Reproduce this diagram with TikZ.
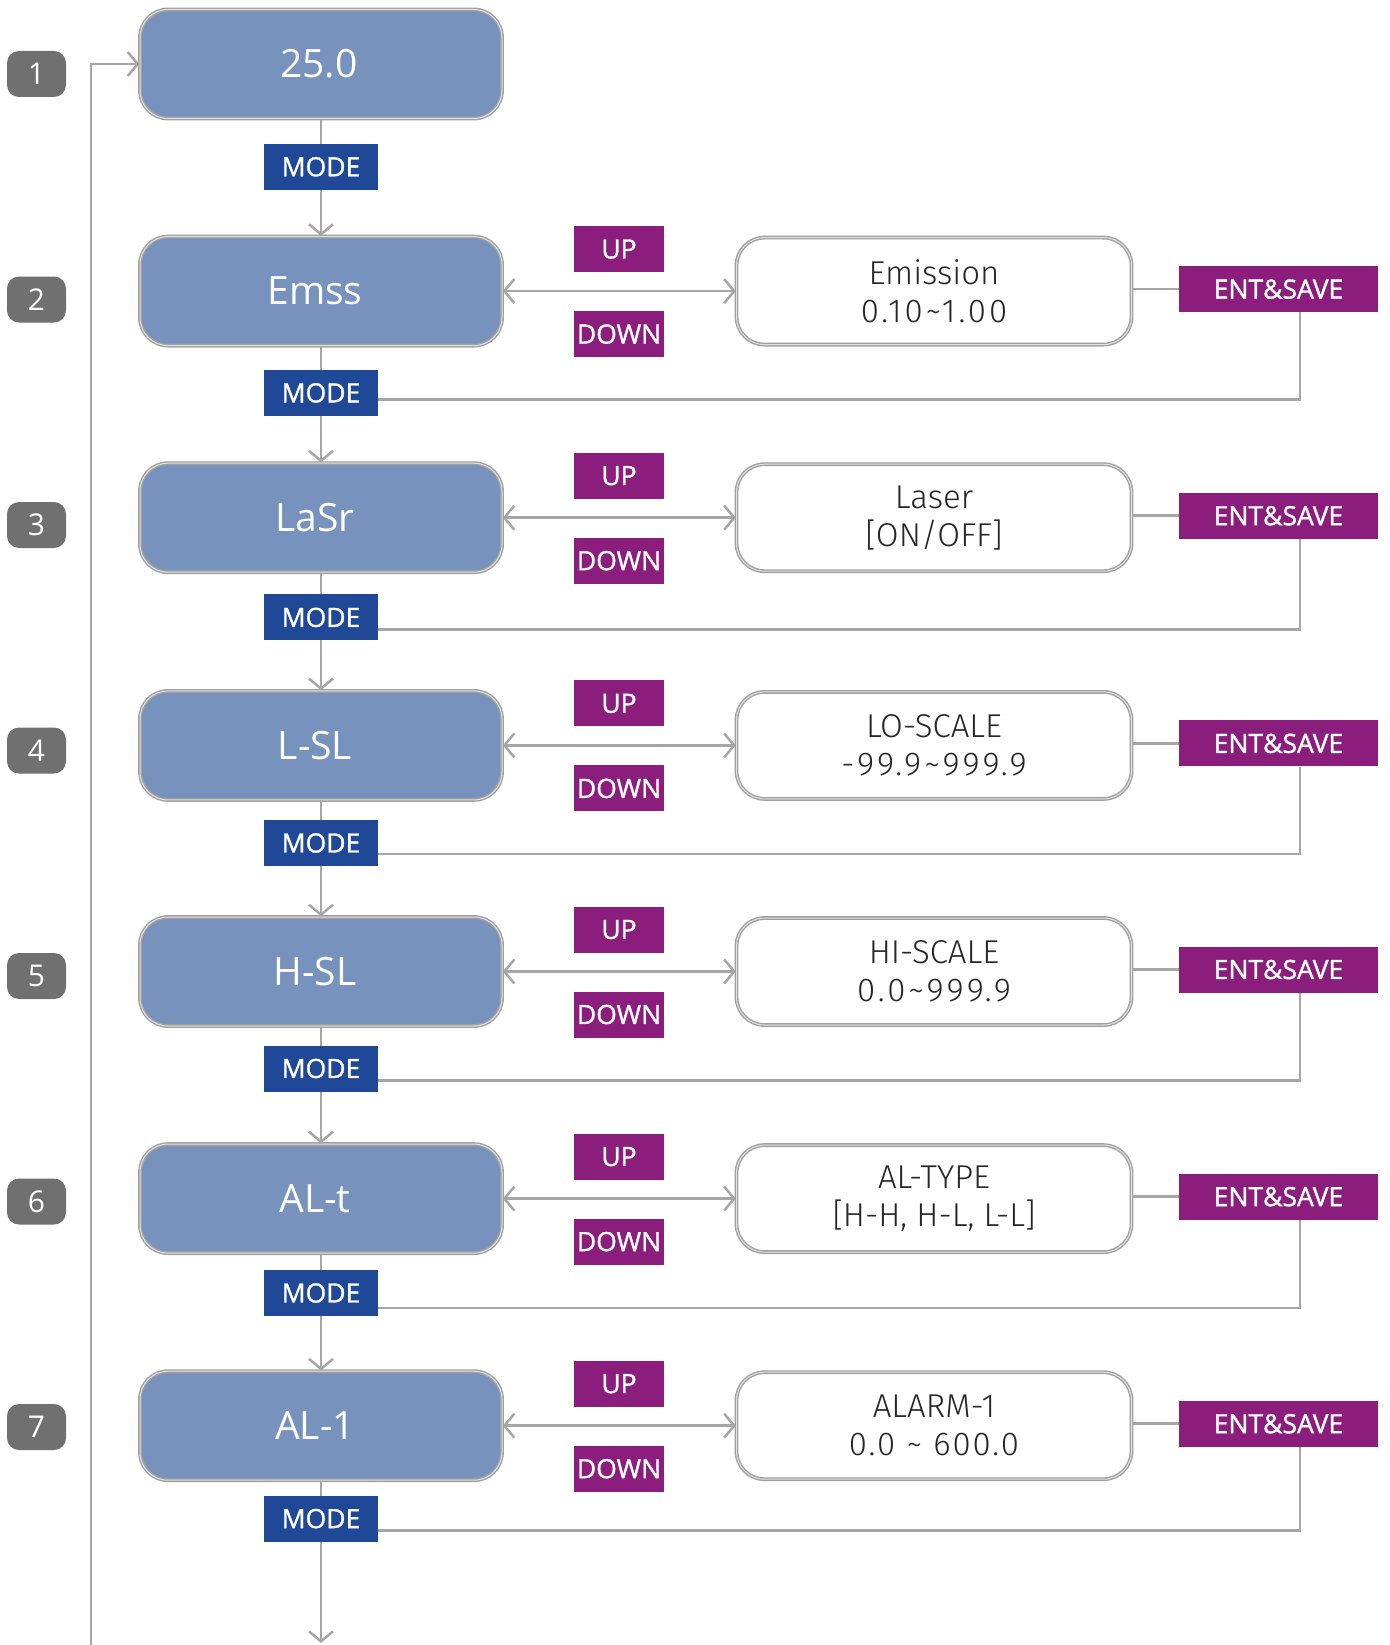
\documentclass[tikz,border=0pt]{standalone}
\usepackage{fontspec}
\setmainfont{Open Sans}
\newfontfamily\labfont{Open Sans}[FakeBold=1.2]
\newfontfamily\lightfont{Fira Sans Light}
\newfontfamily\lightdig{Fira Sans Light}[LetterSpace=9]
\newfontfamily\lightdigb{Fira Sans Light}[LetterSpace=6]
\usetikzlibrary{arrows.meta,calc}
\definecolor{boxblue}{RGB}{120,146,190}
\definecolor{modeblue}{RGB}{31,72,150}
\definecolor{purp}{RGB}{139,30,125}
\definecolor{lin}{RGB}{166,166,166}
\definecolor{badgegray}{RGB}{112,112,112}
\definecolor{bord}{RGB}{160,160,160}
\pgfdeclarelayer{bg}
\pgfsetlayers{bg,main}
\begin{document}
\begin{tikzpicture}[x=1pt,y=-1pt,
  bluebox/.style={rounded corners=28pt, fill=boxblue, draw=bord, line width=1.4pt,
    double=white!70!bord, double distance=1pt, minimum width=362pt, minimum height=109pt,
    text=white, font=\fontsize{39}{47}\selectfont, inner sep=0pt},
  whitebox/.style={rounded corners=28pt, fill=white, draw=bord, line width=1.4pt,
    double=white!70!bord, double distance=1pt, minimum width=395pt, minimum height=107pt,
    text=black!85, align=center, font=\lightfont\fontsize{33}{38}\selectfont, inner sep=0pt},
  lab/.style={text=white, font=\labfont\fontsize{26.5}{30}\selectfont, inner sep=0pt, minimum height=46pt},
  modebox/.style={lab, fill=modeblue, minimum width=114pt},
  udbox/.style={lab, fill=purp, minimum width=90pt},
  entbox/.style={lab, fill=purp, minimum width=199pt},
  badge/.style={fill=badgegray, rounded corners=12pt, minimum width=59pt, minimum height=46pt,
    text=white, font=\fontsize{30}{34}\selectfont, inner sep=0pt},
  ln/.style={draw=lin, line width=2.5pt},
  arr/.style={-{Straight Barb[length=10pt,width=24pt]}},
  darr/.style={{Straight Barb[length=10pt,width=24pt]}-{Straight Barb[length=10pt,width=24pt]}}
]
\useasboundingbox (0,0) rectangle (1389,1645);

% row 1
\node[bluebox] (b1) at (321,64) {25.0\kern4pt};
\node[modebox] (m1) at (321,166.8) {MODE};
\node[badge] (n1) at (36.5,74) {1};

\foreach \i/\y/\my/\by/\fy/\bt/\wt in {
  2/291.1/392.9/299.5/399.7/{Emss}/{Emission\\{\lightdig 0.10\textasciitilde1.00}},
  3/517.7/617.4/525/629.5/{LaSr}/{Laser\\{[ON/OFF]}},
  4/745.4/843.0/750.5/854/{L-SL}/{LO-SCALE\\{\lightdig -99.9\textasciitilde999.9}},
  5/971.5/1068.5/976/1080.6/{H-SL}/{HI-SCALE\\{\lightdig 0.0\textasciitilde999.9}},
  6/1198.6/1293.0/1201.5/1308.2/{AL-t}/{AL-TYPE\\{[H-H, H-L, L-L]}},
  7/1425.7/1518.6/1427/1530.7/{AL-1}/{ALARM-1\\{\lightdigb 0.0 \textasciitilde{} 600.0}}}{
  \node[bluebox] (b\i) at (321,\y) {\bt\kern12pt};
  \node[modebox] (m\i) at (321,\my) {MODE};
  \node[badge] (n\i) at (36.5,\by) {\i};
  \node[udbox] (u\i) at (619,\y-42) {UP};
  \node[udbox] (d\i) at (619,\y+43) {DOWN};
  \node[whitebox] (w\i) at (934,\y) {\wt};
  \node[entbox] (e\i) at (1278.5,\y-2) {ENT\&SAVE};
  \coordinate (f\i) at (1300,\fy);
}
\coordinate (loopb) at (91,1645);
\coordinate (bot) at (321,1643);

\begin{pgfonlayer}{bg}
  \draw[ln,arr] (loopb) |- (b1.west);
  \foreach \i [evaluate=\i as \j using int(\i+1)] in {1,...,6}{
    \draw[ln,arr] (b\i.south) -- (b\j.north);
  }
  \draw[ln,arr] (b7.south) -- (bot);
  \foreach \i in {2,...,7}{
    \draw[ln,darr] (b\i.east) -- (w\i.west);
    \draw[ln] (e\i.west) -- (e\i.west -| w\i.east);
    \draw[ln] (e\i.south -| f\i) |- (m\i.east |- f\i);
  }
\end{pgfonlayer}
\end{tikzpicture}
\end{document}
